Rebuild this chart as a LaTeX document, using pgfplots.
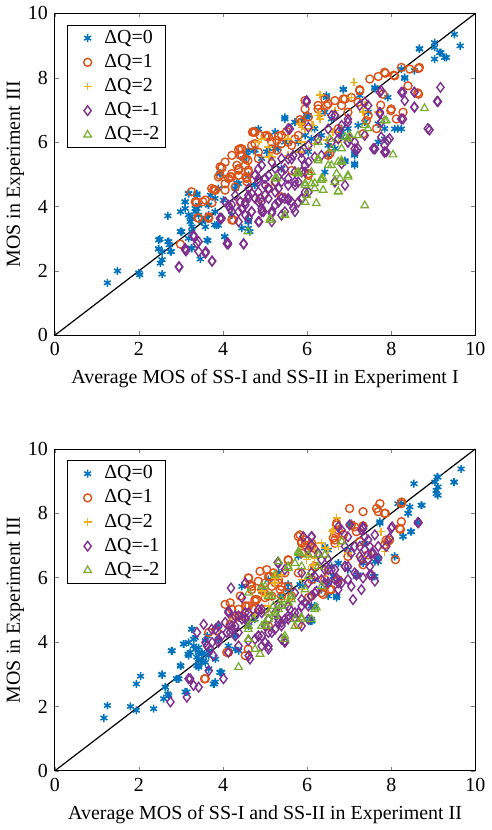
\documentclass[border=0pt]{standalone}
\usepackage{fontspec}
\setmainfont{Liberation Serif}
\usepackage{pgfplots}
\pgfplotsset{compat=1.18}

\definecolor{c0}{rgb}{0,0.447,0.741}
\definecolor{c1}{rgb}{0.85,0.325,0.098}
\definecolor{c2}{rgb}{0.929,0.694,0.125}
\definecolor{c3}{rgb}{0.494,0.184,0.556}
\definecolor{c4}{rgb}{0.466,0.674,0.188}

\pgfplotsset{
  mos/.style={
    width=211pt,height=161.5pt,scale only axis,
    xmin=0,xmax=10,ymin=0,ymax=10,
    xtick={0,2,...,10},ytick={0,2,...,10},
    xticklabels={0,2,4,6,8,10},yticklabels={0,2,4,6,8,10},
    tick align=inside,tick pos=both,
    major tick length=2pt,
    tick label style={font=\fontsize{10}{12}\selectfont},
    label style={font=\fontsize{10}{12}\selectfont},
    ylabel={MOS in Experiment III},
    ylabel shift=-5pt,
    legend style={at={(0.028,0.965)},anchor=north west,draw=black,
      font=\fontsize{10}{11}\selectfont,inner xsep=2pt,inner ysep=1.5pt,
      row sep=2pt,nodes={inner sep=1pt}},
    legend cell align=left,
  },
  leg/.style={legend image code/.code={\path (0pt,0pt) (15pt,0pt);
      \draw[##1] plot coordinates {(8pt,0pt)};}},
  s0/.style={only marks,mark=asterisk,mark size=2pt,c0,line width=0.75pt,leg},
  s1/.style={only marks,mark=o,mark size=2pt,c1,line width=0.7pt,leg},
  s2/.style={only marks,mark=+,mark size=2pt,c2,line width=0.75pt,leg},
  s3/.style={only marks,mark=diamond,mark size=2.4pt,c3,line width=0.7pt,leg},
  s4/.style={only marks,mark=triangle,mark size=2.2pt,c4,line width=0.6pt,leg},
}

\begin{document}
\begin{tikzpicture}
\begin{axis}[mos,name=top,
  xlabel={Average MOS of SS-I and SS-II in Experiment I}]
\addplot[s0] coordinates {(1.25,1.63) (1.49,2.00) (2.00,1.94) (2.02,1.88) (2.55,1.90) (2.50,2.99) (2.47,2.69) (2.55,2.35) (2.69,2.91) (2.72,2.81) (2.77,2.60) (2.69,3.71) (2.99,3.22) (3.10,4.15) (3.10,3.94) (3.18,4.41) (3.22,3.53) (3.26,3.22) (3.25,2.71) (3.38,4.36) (3.38,3.94) (3.46,2.37) (3.50,3.53) (3.64,2.94) (3.65,4.05) (3.80,3.43) (3.93,5.03) (4.04,3.07) (4.01,4.20) (4.21,3.74) (4.33,4.72) (4.45,3.33) (4.60,3.53) (4.64,3.22) (4.60,5.75) (4.76,5.75) (4.92,5.49) (5.08,5.80) (5.31,5.80) (5.47,6.72) (5.71,6.62) (5.87,6.67) (6.03,6.83) (5.95,6.21) (6.18,6.42) (6.46,7.39) (6.42,6.93) (6.86,7.63) (6.82,6.42) (6.90,5.39) (7.13,5.28) (7.13,5.59) (7.25,7.45) (7.61,7.67) (7.69,6.57) (7.69,6.00) (7.84,6.42) (8.16,6.42) (7.92,7.39) (8.32,7.98) (8.55,8.22) (8.67,8.89) (9.03,9.09) (9.03,8.58) (9.15,8.78) (9.31,8.63) (9.50,9.35) (9.64,8.99) (9.03,8.94) (5.04,5.70) (5.24,5.80) (5.55,6.00) (5.79,6.00) (5.39,5.18) (4.76,4.67) (4.61,4.97) (4.29,4.56) (3.81,4.25) (3.66,3.74) (3.58,3.64) (3.34,3.84) (3.18,3.74) (6.34,6.21) (6.58,6.72) (6.97,6.42) (7.37,6.62) (7.45,6.93) (6.66,5.80) (6.03,5.70) (4.57,5.59) (4.49,5.49)
 (5.47,6.77) (5.71,6.62) (5.47,6.00) (5.24,6.31) (4.84,6.41) (3.93,5.02) (3.89,4.56) (4.37,4.71) (3.10,4.14) (3.26,3.63) (3.02,3.22) (2.71,2.91) (2.55,2.60) (3.62,2.96) (3.85,3.42) (4.60,3.32) (2.99,3.84) (3.42,4.04) (3.70,4.35) (8.67,8.91) (9.18,8.78) (9.27,8.63) (8.32,8.01) (8.24,8.27) (7.61,7.70) (6.86,7.65) (6.46,7.45) (5.99,6.83) (7.13,5.33) (7.84,6.10) (8.08,6.41) (8.24,6.41) (6.82,6.31) (7.21,6.52) (6.50,5.59) (6.90,5.43)
 (3.18,4.40) (3.38,4.40) (3.22,3.68) (3.42,3.73) (3.58,3.58) (3.58,3.37) (3.26,3.37) (2.99,3.22) (3.18,3.01) (2.47,2.96) (2.47,2.68) (2.75,2.60) (2.51,2.24) (3.26,2.70) (4.04,3.06) (4.60,3.53) (3.89,3.42) (3.66,4.04) (3.81,3.84) (3.34,3.94) (5.99,6.77) (4.72,5.74) (7.13,5.64) (6.42,5.07) (4.60,3.58) (6.50,5.90) (6.10,6.10) (6.82,6.16)};
\addlegendentry{ΔQ=0\hspace{2.5pt}}
\addplot[s1] coordinates {(2.99,2.83) (3.25,4.46) (3.34,4.15) (3.52,4.15) (3.74,4.12) (3.42,3.64) (3.78,4.53) (3.97,5.21) (4.05,4.51) (4.21,5.59) (4.21,4.92) (4.41,5.80) (4.41,5.59) (4.37,5.18) (4.60,5.13) (4.57,4.77) (4.72,6.33) (4.76,5.95) (4.84,5.49) (5.04,6.21) (5.16,6.00) (5.28,5.75) (5.39,6.21) (5.51,6.33) (5.63,5.90) (5.71,6.10) (4.21,3.58) (4.88,4.25) (5.08,4.56) (5.24,4.77) (5.95,7.29) (6.03,6.78) (6.26,7.03) (6.42,7.34) (6.66,7.29) (6.86,7.34) (6.82,7.14) (7.05,7.39) (7.25,7.63) (7.49,7.96) (7.69,8.04) (7.84,8.17) (8.08,8.06) (8.24,8.32) (8.44,8.27) (8.67,8.32) (8.40,7.75) (8.63,7.53) (7.99,6.98) (8.12,6.72) (7.65,6.42) (7.45,6.83) (7.21,7.24) (6.74,6.42) (6.97,6.93) (6.03,4.97) (5.79,6.21) (5.87,5.08) (3.93,5.23) (3.73,4.56) (3.37,4.14) (4.76,6.31)
 (4.70,6.31) (5.00,6.19) (5.32,6.19) (5.39,5.95) (5.83,6.70) (4.37,5.77) (4.45,5.59) (4.59,5.43) (4.33,5.28) (4.53,5.28) (4.21,5.02) (4.37,4.97) (4.60,5.07) (4.56,4.87) (3.82,4.51) (3.58,4.20) (3.66,3.63) (4.25,3.58) (5.39,4.30) (3.89,4.92) (4.13,4.87) (4.05,5.38) (7.86,8.14) (8.06,8.08) (8.65,8.29) (8.65,7.49) (8.28,6.93) (8.00,7.03) (7.75,7.15) (7.25,7.60) (6.90,7.34) (6.46,7.14) (6.34,6.93) (6.50,5.59) (5.87,6.62) (7.41,6.67) (7.33,6.26) (7.80,7.49)
 (3.97,5.20) (3.36,4.12) (3.40,3.65) (3.81,4.51) (3.93,4.97) (4.17,4.92) (4.37,5.13) (4.56,4.92) (4.05,4.71) (4.29,4.61) (4.41,4.14) (3.66,3.68) (4.72,6.31) (4.88,6.21) (5.08,6.16) (5.28,6.05) (5.55,6.00) (4.45,5.79) (4.53,5.48) (4.68,5.90) (4.84,5.69) (5.16,5.79) (5.95,7.03) (6.26,7.14) (6.50,7.19) (6.54,5.64) (5.63,5.12) (6.03,5.02)};
\addlegendentry{ΔQ=1\hspace{2.5pt}}
\addplot[s2] coordinates {(7.12,7.86) (6.30,7.47) (6.30,6.72) (6.26,6.83) (4.84,6.00) (5.08,5.54) (6.10,6.42) (6.03,5.80) (6.66,6.98) (6.74,6.00) (5.55,5.59) (5.87,6.00) (4.92,6.10) (7.37,7.14) (7.69,6.93) (6.46,6.06) (5.55,6.10) (7.33,6.93) (5.08,5.85) (5.16,5.54) (5.87,6.46) (6.10,6.52) (5.83,5.69) (7.05,7.39) (5.95,6.41) (6.14,6.52) (6.62,6.31) (6.30,6.83) (5.83,6.57) (6.18,5.95) (5.12,5.54)};
\addlegendentry{ΔQ=2\hspace{2.5pt}}
\addplot[s3] coordinates {(2.96,2.12) (3.10,2.66) (3.30,3.07) (3.42,2.91) (3.58,2.55) (3.74,2.30) (4.12,2.83) (4.49,2.83) (3.93,3.64) (4.17,3.94) (4.37,3.84) (4.53,4.05) (4.86,3.53) (4.96,3.84) (5.16,3.79) (5.47,3.84) (5.67,3.96) (5.87,4.23) (5.55,4.20) (4.68,4.41) (4.84,4.77) (5.08,4.56) (5.32,4.56) (5.47,4.25) (4.92,5.28) (5.24,5.18) (5.39,5.49) (5.55,6.42) (5.67,5.59) (5.87,5.49) (6.18,5.54) (6.26,6.10) (5.99,7.29) (6.66,6.83) (6.82,6.52) (6.97,6.72) (7.13,6.00) (7.21,5.80) (7.45,7.14) (7.57,5.80) (7.73,6.93) (7.76,7.60) (7.84,5.90) (7.88,5.70) (7.96,6.11) (8.24,7.55) (8.32,7.29) (8.55,7.09) (8.55,7.55) (8.87,6.42) (9.09,7.27) (9.17,7.70) (8.24,6.72) (7.76,6.62) (6.66,4.77) (6.82,5.33) (6.34,5.59) (5.71,4.77) (4.41,4.15) (4.21,4.05) (4.61,3.64) (5.00,4.36) (5.32,4.15) (4.76,4.97) (5.08,4.97) (5.39,4.77) (4.61,4.56) (5.24,4.05) (5.71,5.08) (5.95,5.28) (6.58,6.00) (6.97,6.00) (7.37,6.21) (4.29,4.35) (4.84,4.15)
 (4.84,5.17) (5.00,4.87) (5.24,4.76) (5.39,5.07) (5.55,4.87) (5.71,4.66) (5.87,5.07) (5.95,4.45) (4.84,4.45) (5.08,4.25) (5.32,4.14) (5.55,4.25) (5.79,4.14) (4.60,4.25) (4.68,3.84) (4.92,3.84) (5.16,3.84) (5.39,3.73) (5.71,3.84) (4.37,3.53) (4.13,4.04) (3.93,3.63) (4.09,2.85) (4.49,2.85) (3.38,2.85) (3.42,2.60) (3.10,2.70) (6.03,5.38) (5.16,5.38) (5.55,5.48) (5.87,5.69) (6.03,5.90) (4.84,4.87) (5.08,4.56) (9.11,7.26) (8.91,6.38) (8.55,7.08) (8.55,7.55) (8.28,7.55) (8.28,6.72) (7.73,6.88) (7.92,6.05) (7.84,5.69) (7.61,5.79) (7.73,7.55) (7.17,5.74) (5.87,4.25) (5.99,7.24) (7.25,7.14) (7.37,7.24) (6.97,6.62) (6.74,6.31) (7.01,6.10) (6.58,6.83)
 (2.95,2.13) (3.12,2.62) (3.30,3.11) (3.59,2.60) (3.74,2.31) (4.11,2.88) (3.97,3.63) (4.21,3.84) (4.05,4.14) (4.45,3.94) (4.60,4.35) (4.84,3.53) (4.92,4.14) (4.68,3.84) (4.53,4.14) (4.76,4.25) (4.92,3.94) (5.16,3.84) (5.39,4.25) (5.63,4.14) (5.87,4.25) (6.03,4.45) (5.16,3.53) (4.53,3.73) (5.55,4.66) (5.79,4.76) (6.66,4.76) (6.90,4.66) (7.61,5.79) (7.84,5.69) (7.76,6.16) (5.59,6.41) (6.03,6.46) (6.50,6.41) (6.66,6.83) (6.74,6.10) (6.97,6.00) (7.13,5.79) (5.00,4.66) (5.24,4.45) (5.47,5.17) (5.63,5.48) (5.95,5.07)};
\addlegendentry{ΔQ=-1\hspace{2.5pt}}
\addplot[s4] coordinates {(4.59,3.22) (5.12,3.58) (5.47,3.74) (5.75,5.03) (5.95,4.72) (6.18,4.72) (6.22,4.10) (6.34,4.87) (6.38,4.51) (6.58,5.28) (6.74,4.46) (6.78,4.87) (6.74,5.39) (6.97,4.92) (6.82,5.80) (7.37,4.03) (8.04,5.61) (8.79,7.05) (6.26,5.49) (6.54,6.10) (7.37,6.52) (7.45,6.42) (6.90,6.16) (7.01,6.21) (7.21,6.21) (7.84,6.67)
 (5.24,4.87) (5.79,5.07) (6.10,4.71) (5.95,4.14) (5.12,3.63) (5.47,3.73) (6.97,4.97) (6.38,4.87) (6.82,5.38) (7.88,6.67) (6.10,5.07) (5.99,4.35) (6.66,4.76)
 (6.74,4.47) (6.70,5.02) (6.50,5.28) (6.34,4.82) (6.18,4.56) (5.95,4.66) (5.79,5.02) (5.28,4.87) (6.26,5.43) (6.82,5.43) (6.58,5.79) (6.97,6.10) (6.26,6.00)};
\addlegendentry{ΔQ=-2\hspace{2.5pt}}
\addplot[black,line width=0.6pt,forget plot] coordinates {(0,0) (10,10)};
\end{axis}

\begin{axis}[mos,at={(top.south west)},anchor=north west,yshift=-57pt,
  xlabel={Average MOS of SS-I and SS-II in Experiment II}]
\addplot[s0] coordinates {(1.17,1.64) (1.25,2.03) (1.80,2.00) (1.94,1.88) (1.94,2.70) (2.04,2.94) (2.35,1.93) (2.55,3.00) (2.59,2.24) (2.63,2.60) (2.69,2.39) (2.79,3.73) (2.89,2.86) (2.99,3.27) (3.07,3.94) (3.10,2.45) (3.17,3.63) (3.26,4.40) (3.30,4.09) (3.34,3.78) (3.38,3.53) (3.42,3.27) (3.50,3.68) (3.54,3.42) (3.62,4.19) (3.66,3.17) (3.79,2.70) (3.82,3.47) (3.97,3.06) (4.45,5.73) (4.92,5.58) (5.08,5.94) (5.32,6.15) (5.79,6.66) (6.11,4.65) (6.18,5.11) (6.42,6.92) (6.70,5.43) (7.01,7.64) (7.21,6.09) (7.57,6.04) (7.69,6.61) (8.08,6.66) (8.28,7.28) (8.48,7.43) (8.24,8.30) (8.40,8.00) (8.54,8.92) (8.73,8.25) (9.07,8.61) (9.11,8.82) (9.09,9.13) (9.04,8.97) (9.50,8.97) (9.66,9.38) (7.73,7.74) (4.29,4.19) (4.61,4.50) (4.76,4.71) (5.39,5.43) (5.55,5.63) (5.87,5.73) (6.18,5.94) (6.58,6.35) (6.74,6.45) (6.97,6.87) (7.37,7.07) (6.34,5.63) (4.13,3.88) (3.89,4.09)
 (3.06,3.94) (3.26,4.40) (3.30,3.88) (3.18,3.58) (3.42,3.68) (3.50,3.37) (3.38,3.27) (3.66,3.58) (2.99,3.27) (2.95,2.86) (3.93,3.06) (3.81,2.76) (4.29,3.78) (3.89,4.50) (6.10,4.71) (6.10,5.12) (6.50,5.43) (6.62,6.04) (9.11,9.12) (9.49,8.97) (9.07,8.71) (9.11,8.56) (8.71,8.25) (8.40,8.00) (8.44,8.20) (8.16,8.30) (8.63,7.71) (8.46,7.43) (8.28,7.28) (7.73,7.69) (8.08,6.66) (7.61,6.04) (7.17,6.04) (6.70,5.43) (6.07,4.65) (7.05,7.69) (7.69,6.50) (6.74,6.45) (6.97,6.25) (6.50,6.86)
 (2.55,2.98) (2.63,2.60) (2.71,2.34) (2.93,2.86) (2.99,3.25) (2.77,3.73) (3.18,3.99) (3.34,4.14) (3.22,3.68) (3.42,3.83) (3.42,3.47) (3.42,3.22) (3.58,3.37) (3.50,3.63) (3.66,3.73) (3.14,2.45) (3.77,2.70) (3.93,3.06) (4.37,3.73) (3.58,4.04) (6.42,6.97) (6.70,5.38) (6.07,4.71) (6.18,5.12) (7.61,6.50) (5.83,5.79) (5.32,6.15) (5.55,5.79) (6.50,5.84) (7.33,6.45)};
\addlegendentry{ΔQ=0\hspace{2.5pt}}
\addplot[s1] coordinates {(3.56,2.86) (4.13,3.68) (4.05,5.17) (4.17,4.55) (4.41,5.43) (4.61,5.99) (4.64,5.79) (4.88,6.20) (5.04,6.25) (4.92,5.63) (5.08,5.43) (5.32,5.84) (5.55,6.54) (5.55,5.73) (5.39,5.43) (5.79,7.28) (5.87,7.12) (6.11,7.07) (6.15,6.92) (6.11,5.94) (6.38,5.48) (6.58,5.63) (6.66,7.38) (6.66,7.17) (6.70,7.64) (6.82,7.17) (7.01,8.15) (7.13,7.58) (7.33,8.05) (7.33,7.61) (7.45,6.71) (7.65,8.15) (7.73,8.30) (7.84,8.00) (7.84,7.02) (7.92,7.12) (7.96,7.17) (8.20,7.53) (8.24,7.74) (8.24,8.30) (8.10,6.56) (4.76,5.32) (4.61,5.12) (4.45,4.81) (5.00,5.02) (5.79,6.15) (6.18,6.35) (6.42,5.94) (5.47,6.15) (5.00,5.84)
 (5.12,6.04) (4.68,5.63) (5.24,5.84) (5.39,5.73) (5.16,5.43) (4.76,5.27) (4.53,5.12) (4.29,4.81) (4.72,5.02) (5.79,4.55) (4.60,3.78) (5.87,7.07) (6.10,6.97) (6.34,5.53) (7.69,8.05) (7.86,8.00) (8.25,8.35) (7.88,7.17) (8.22,7.50) (7.05,7.64) (6.70,7.69) (6.62,7.23) (6.66,7.07) (7.17,7.43) (7.25,7.12) (5.83,7.33) (5.95,7.17) (5.87,6.76) (6.54,5.63) (6.10,5.43) (6.97,6.66) (7.33,6.40)
 (4.21,5.02) (4.37,4.81) (3.85,4.35) (4.09,3.68) (4.53,3.58) (3.58,2.86) (3.66,4.30) (5.95,7.02) (6.07,6.97) (6.14,6.76) (6.74,7.48) (6.86,7.33) (4.60,5.99) (4.68,5.73) (4.84,5.89) (5.08,6.04) (5.20,6.15) (5.32,5.94) (4.96,5.58) (5.16,5.73) (5.36,5.63) (4.80,5.32) (5.00,5.38) (4.17,5.22) (4.37,5.02) (4.56,5.12) (4.25,4.71) (6.03,5.38) (6.74,5.94) (5.63,5.43) (5.08,4.50) (5.55,6.56)};
\addlegendentry{ΔQ=1\hspace{2.5pt}}
\addplot[s2] coordinates {(6.70,7.86) (6.62,7.48) (7.76,7.43) (7.84,6.81) (6.18,6.87) (6.50,6.87) (6.74,6.97) (6.42,6.25) (6.18,6.61) (5.87,5.94) (5.24,6.04) (5.00,5.43) (6.03,6.25) (7.29,6.66) (5.55,5.32) (4.76,4.91) (5.87,5.63) (6.42,6.92) (6.03,6.71) (5.24,5.99) (5.08,5.12) (6.34,7.07) (6.58,7.43) (5.99,6.56) (6.14,6.40) (6.46,6.15) (5.39,6.09) (5.24,5.84) (4.92,5.58) (6.97,6.76)};
\addlegendentry{ΔQ=2\hspace{2.5pt}}
\addplot[s3] coordinates {(2.75,2.14) (3.14,2.29) (3.18,2.86) (3.30,2.65) (3.42,2.60) (3.66,3.11) (4.01,2.86) (3.54,4.55) (3.38,4.30) (3.62,3.88) (3.74,3.99) (3.82,4.40) (4.13,4.91) (4.19,5.68) (4.29,4.19) (4.37,3.88) (4.45,4.71) (4.61,3.58) (4.64,3.47) (4.76,4.09) (4.92,4.19) (5.08,3.88) (5.16,4.30) (5.32,6.45) (5.39,4.50) (5.47,4.04) (5.55,4.71) (5.71,4.91) (5.87,4.50) (6.03,6.87) (6.11,7.28) (6.18,5.53) (6.42,5.84) (6.66,5.94) (6.74,5.84) (6.82,7.48) (6.90,6.97) (7.05,5.73) (6.97,6.35) (7.17,6.09) (7.33,7.53) (7.37,6.87) (7.49,6.09) (7.61,7.33) (7.69,6.97) (8.00,7.53) (8.63,7.71) (7.29,6.56) (6.58,6.25) (6.34,6.56) (4.61,4.91) (4.84,5.01) (5.00,4.50) (5.32,4.71) (5.55,5.12) (5.87,5.12) (4.21,4.40) (3.97,4.19) (5.24,4.91) (5.39,4.09) (4.92,3.88) (7.45,6.56) (6.97,5.94)
 (4.45,5.38) (4.13,4.96) (4.37,4.81) (3.73,4.40) (3.58,3.99) (3.70,3.78) (3.89,4.09) (4.09,4.30) (4.29,4.50) (4.60,4.61) (4.76,4.81) (4.92,5.02) (5.08,4.71) (5.24,4.40) (5.39,4.61) (5.55,4.81) (5.47,6.25) (5.87,6.15) (6.03,5.84) (6.18,6.04) (6.50,5.84) (6.42,6.25) (5.00,3.99) (5.08,3.78) (5.47,3.99) (4.13,3.68) (3.22,2.86) (4.84,4.19) (5.32,5.12) (5.87,5.32) (6.03,5.12) (6.10,5.43) (5.71,5.53) (4.53,5.84) (8.65,7.71) (8.02,7.58) (7.96,7.23) (7.88,6.97) (7.69,6.61) (7.57,6.76) (7.53,6.09) (7.17,6.09) (6.82,5.84) (6.70,5.99) (7.33,7.58) (7.37,7.27) (7.49,6.97) (6.97,7.27) (7.13,6.97) (7.25,6.66) (6.10,7.27) (6.10,7.02) (6.26,6.76) (6.50,6.56) (6.66,6.25) (6.90,6.35)
 (3.89,4.50) (4.05,4.61) (3.89,3.99) (4.17,4.30) (4.29,4.81) (4.53,4.91) (3.77,3.58) (5.30,6.47) (5.91,7.27) (6.74,7.58) (7.01,7.64) (7.29,7.48) (7.45,7.17) (7.25,6.97) (7.05,6.76) (7.53,6.76) (6.90,6.35) (7.13,6.15) (7.33,5.99) (6.74,5.63) (7.29,5.63) (7.09,5.32) (7.49,6.35) (7.61,5.89) (6.50,6.25) (6.34,5.94) (6.10,6.15) (6.22,5.58) (5.95,5.22) (5.59,5.02) (5.71,4.76) (5.32,4.61) (5.08,4.30) (4.84,4.19) (4.60,4.04) (4.37,4.30) (4.21,4.50) (4.53,4.71) (6.03,4.71) (5.79,4.91) (5.47,4.71) (4.92,4.91)};
\addlegendentry{ΔQ=-1\hspace{2.5pt}}
\addplot[s4] coordinates {(4.37,3.22) (4.61,4.09) (4.76,3.78) (4.88,3.63) (5.00,4.60) (5.08,4.91) (5.20,5.12) (5.32,5.02) (5.47,4.09) (5.39,5.32) (5.55,5.22) (5.63,5.43) (5.71,4.71) (5.87,4.71) (5.79,6.76) (5.55,6.35) (6.18,5.02) (6.26,6.71) (6.42,6.71) (6.82,7.12) (4.92,5.73) (4.61,5.53) (5.87,6.35) (6.03,6.04)
 (4.60,4.09) (5.04,4.50) (4.60,4.50) (5.47,4.19) (5.24,4.81) (5.39,5.12) (5.63,5.32) (6.22,5.07) (5.83,6.76) (5.24,6.09) (5.08,5.43) (5.87,4.76)
 (5.79,6.81) (6.03,6.71) (5.71,6.45) (5.32,6.50) (5.55,6.30) (5.00,5.73) (5.16,5.43) (5.39,5.12) (5.24,4.91) (5.08,4.71) (4.92,4.50) (4.60,4.40) (4.72,4.71) (5.71,4.50) (6.10,4.71) (5.95,5.63) (6.34,5.73) (6.26,6.35)};
\addlegendentry{ΔQ=-2\hspace{2.5pt}}
\addplot[black,line width=0.6pt,forget plot] coordinates {(0,0) (10,10)};
\end{axis}
\end{tikzpicture}
\end{document}
